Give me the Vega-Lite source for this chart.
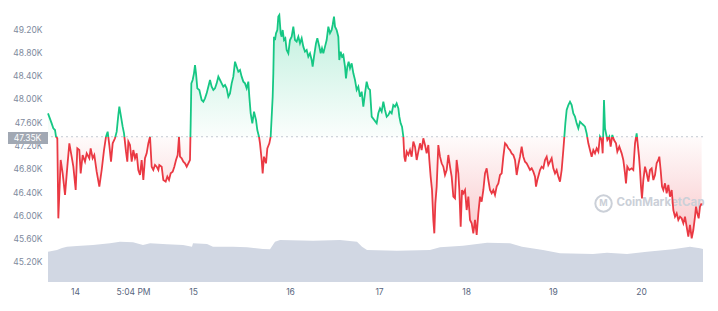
{
  "$schema": "https://vega.github.io/schema/vega-lite/v6.json",
  "autosize": {"type": "none"},
  "width": 655,
  "height": 282,
  "padding": {"left": 48, "top": 0, "right": 15, "bottom": 29},
  "background": "white",
  "config": {"view": {"stroke": null}, "font": "Inter", "axis": {"labelOverlap": false}},
  "datasets": {
    "volume": [
      {"h":0,"v":21.5},{"h":2.45,"v":22.7},{"h":3.82,"v":24.1},{"h":5.18,"v":25.0},{"h":7.91,"v":25.5},{"h":12.27,"v":26.2},{"h":16.91,"v":27.4},{"h":19.63,"v":28.6},{"h":23.18,"v":28.2},{"h":25.91,"v":26.2},{"h":27.82,"v":27.4},{"h":32.45,"v":26.7},{"h":36.82,"v":26.2},{"h":39.27,"v":25.0},{"h":39.54,"v":27.4},{"h":43.36,"v":27.0},{"h":45.0,"v":25.0},{"h":50.45,"v":25.0},{"h":54.27,"v":24.6},{"h":58.63,"v":23.4},{"h":60.54,"v":23.2},{"h":61.9,"v":28.6},{"h":63.27,"v":29.8},{"h":72.27,"v":29.3},{"h":79.63,"v":29.8},{"h":84.27,"v":28.6},{"h":85.63,"v":25.0},{"h":87.0,"v":22.7},{"h":95.17,"v":22.2},{"h":104.17,"v":22.7},{"h":106.9,"v":24.6},{"h":113.17,"v":25.7},{"h":119.72,"v":27.9},{"h":125.99,"v":27.4},{"h":129.26,"v":25.0},{"h":134.99,"v":22.7},{"h":139.62,"v":20.4},{"h":148.62,"v":19.9},{"h":152.44,"v":20.8},{"h":157.9,"v":19.9},{"h":163.35,"v":21.5},{"h":170.44,"v":23.2},{"h":175.07,"v":25.0},{"h":177.8,"v":23.9},{"h":178.62,"v":23.4}
    ],
    "price": [
      {"h":0,"p":47752},{"h":1.0,"p":47580},{"h":1.45,"p":47495},{"h":1.91,"p":47466},{"h":2.18,"p":47351},{"h":2.54,"p":47323},{"h":2.82,"p":45949},{"h":3.46,"p":46951},{"h":4.0,"p":46722},{"h":4.64,"p":46350},{"h":5.27,"p":46836},{"h":5.82,"p":47237},{"h":6.45,"p":47008},{"h":6.91,"p":46836},{"h":7.55,"p":46436},{"h":8.0,"p":47151},{"h":8.54,"p":47122},{"h":8.91,"p":46722},{"h":9.45,"p":47037},{"h":10.09,"p":46922},{"h":10.55,"p":47065},{"h":11.27,"p":46980},{"h":11.64,"p":47151},{"h":12.17,"p":46980},{"h":12.63,"p":47037},{"h":13.27,"p":46750},{"h":14.0,"p":46493},{"h":14.64,"p":46779},{"h":15.27,"p":47122},{"h":15.82,"p":47351},{"h":16.27,"p":47437},{"h":16.72,"p":47208},{"h":17.18,"p":46922},{"h":17.64,"p":47237},{"h":18.27,"p":47323},{"h":18.73,"p":47437},{"h":19.18,"p":47723},{"h":19.45,"p":47866},{"h":19.91,"p":47695},{"h":20.36,"p":47523},{"h":20.73,"p":47409},{"h":21.27,"p":47094},{"h":21.63,"p":46922},{"h":21.91,"p":47266},{"h":22.36,"p":47208},{"h":22.82,"p":46922},{"h":23.27,"p":47122},{"h":23.73,"p":46980},{"h":24.18,"p":47065},{"h":24.63,"p":46779},{"h":25.09,"p":46693},{"h":25.54,"p":46951},{"h":26.0,"p":46607},{"h":26.45,"p":46980},{"h":26.91,"p":47065},{"h":27.36,"p":47237},{"h":27.82,"p":47351},{"h":28.27,"p":46836},{"h":28.72,"p":46779},{"h":29.18,"p":46865},{"h":29.63,"p":46836},{"h":30.09,"p":46779},
      {"h":30.36,"p":46865},{"h":31.0,"p":46836},{"h":31.45,"p":46607},{"h":32.09,"p":46579},{"h":32.54,"p":46665},{"h":33.0,"p":46607},{"h":33.45,"p":46722},{"h":34.0,"p":46750},{"h":34.45,"p":46836},{"h":34.91,"p":46951},{"h":35.36,"p":47037},{"h":35.72,"p":47351},{"h":36.0,"p":47008},{"h":36.45,"p":46980},{"h":36.91,"p":46922},{"h":37.36,"p":46894},{"h":37.82,"p":46836},{"h":38.27,"p":46894},{"h":38.72,"p":46951},{"h":38.91,"p":47580},{"h":39.09,"p":48267},{"h":39.45,"p":48324},{"h":39.81,"p":48439},{"h":40.09,"p":48582},{"h":40.36,"p":48439},{"h":40.72,"p":48181},{"h":41.27,"p":48153},{"h":41.9,"p":47981},{"h":42.36,"p":47952},{"h":42.81,"p":48010},{"h":43.27,"p":48095},{"h":43.72,"p":48210},{"h":44.18,"p":48324},{"h":44.63,"p":48210},{"h":45.09,"p":48153},{"h":45.54,"p":48181},{"h":46.0,"p":48267},{"h":46.45,"p":48382},{"h":46.91,"p":48324},{"h":47.36,"p":48267},{"h":47.81,"p":48210},{"h":48.27,"p":48239},{"h":48.72,"p":48181},{"h":49.18,"p":48038},{"h":49.63,"p":48095},{"h":50.09,"p":48267},{"h":50.54,"p":48382},{"h":51.0,"p":48639},{"h":51.45,"p":48553},{"h":51.9,"p":48467},{"h":52.36,"p":48496},{"h":52.81,"p":48382},{"h":53.27,"p":48296},{"h":53.72,"p":48267},{"h":54.18,"p":48181},{"h":54.63,"p":48296},{"h":54.9,"p":48038},{"h":55.27,"p":47752},{"h":55.72,"p":47580},{"h":56.18,"p":47781},{"h":56.72,"p":47638},{"h":57.08,"p":47466},{"h":57.54,"p":47351},
      {"h":57.81,"p":47237},{"h":58.27,"p":46951},{"h":58.54,"p":46722},{"h":58.9,"p":47008},{"h":59.45,"p":46894},{"h":59.81,"p":47151},{"h":60.36,"p":47237},{"h":60.72,"p":47351},{"h":61.09,"p":47809},{"h":61.27,"p":48038},{"h":61.45,"p":48439},{"h":61.63,"p":49068},{"h":61.9,"p":49011},{"h":62.18,"p":49126},{"h":62.54,"p":49183},{"h":62.81,"p":49412},{"h":63.08,"p":49440},{"h":63.45,"p":49126},{"h":63.72,"p":49068},{"h":64.0,"p":49183},{"h":64.36,"p":49011},{"h":64.72,"p":49040},{"h":65.08,"p":48840},{"h":65.54,"p":48782},{"h":65.99,"p":49011},{"h":66.45,"p":49068},{"h":66.9,"p":49240},{"h":67.36,"p":49011},{"h":67.81,"p":48983},{"h":68.27,"p":49068},{"h":68.72,"p":48954},{"h":69.18,"p":49040},{"h":69.63,"p":48897},{"h":70.08,"p":48811},{"h":70.54,"p":48840},{"h":70.99,"p":48725},{"h":71.45,"p":48782},{"h":71.9,"p":48668},{"h":72.17,"p":48553},{"h":72.54,"p":48725},{"h":73.08,"p":48954},{"h":73.45,"p":49040},{"h":73.99,"p":48897},{"h":74.36,"p":48782},{"h":74.72,"p":48868},{"h":75.08,"p":48782},{"h":75.54,"p":48897},{"h":75.99,"p":49011},{"h":76.45,"p":49240},{"h":76.9,"p":49126},{"h":77.36,"p":49183},{"h":77.62,"p":49269},{"h":77.99,"p":49412},{"h":78.27,"p":49240},{"h":78.72,"p":49183},{"h":79.17,"p":49068},{"h":79.44,"p":48668},{"h":79.81,"p":48811},{"h":80.17,"p":48725},{"h":80.54,"p":48754},{"h":80.99,"p":48553},{"h":81.26,"p":48353},{"h":81.63,"p":48553},{"h":81.99,"p":48639},{"h":82.36,"p":48525},{"h":82.81,"p":48611},{"h":83.27,"p":48439},{"h":83.72,"p":48324},{"h":84.18,"p":48153},{"h":84.63,"p":48210},{"h":85.08,"p":48038},{"h":85.54,"p":48124},{"h":85.99,"p":47866},{"h":86.45,"p":48095},{"h":86.9,"p":48296},{"h":87.36,"p":48181},{"h":87.81,"p":48153},
      {"h":88.27,"p":47695},{"h":89.63,"p":47580},{"h":90.08,"p":47752},{"h":90.54,"p":47838},{"h":90.99,"p":47781},{"h":91.45,"p":47952},{"h":91.9,"p":47809},{"h":92.36,"p":47695},{"h":92.81,"p":47723},{"h":93.26,"p":47781},{"h":93.72,"p":47752},{"h":94.17,"p":47895},{"h":94.63,"p":47866},{"h":95.08,"p":47924},{"h":95.54,"p":47838},{"h":95.81,"p":47695},{"h":96.17,"p":47580},{"h":96.54,"p":47523},{"h":96.9,"p":47351},{"h":97.17,"p":47008},{"h":97.44,"p":46922},{"h":97.81,"p":47094},{"h":98.26,"p":47037},{"h":98.72,"p":47122},{"h":99.17,"p":47008},{"h":99.63,"p":47266},{"h":100.08,"p":47180},{"h":100.54,"p":46951},{"h":100.99,"p":47094},{"h":101.45,"p":47237},{"h":101.9,"p":47122},{"h":102.35,"p":47323},{"h":102.81,"p":47208},{"h":103.26,"p":47065},{"h":103.72,"p":47208},{"h":103.99,"p":46951},{"h":104.35,"p":46665},{"h":104.72,"p":46436},{"h":105.08,"p":45921},{"h":105.35,"p":45692},{"h":105.63,"p":46207},{"h":105.99,"p":46493},{"h":106.44,"p":47208},{"h":106.9,"p":47008},{"h":107.35,"p":46894},{"h":107.81,"p":46836},{"h":108.26,"p":46693},{"h":108.72,"p":46779},{"h":109.17,"p":47037},{"h":109.63,"p":46836},{"h":110.08,"p":46665},{"h":110.54,"p":46321},{"h":110.99,"p":46293},{"h":111.44,"p":46951},{"h":111.9,"p":46722},{"h":112.17,"p":46436},{"h":112.54,"p":45806},{"h":112.9,"p":46436},{"h":113.26,"p":46379},{"h":113.72,"p":46436},{"h":114.17,"p":46092},{"h":114.63,"p":46321},{"h":115.08,"p":45921},{"h":115.54,"p":45863},{"h":115.99,"p":45692},{"h":116.44,"p":45921},{"h":116.9,"p":45663},{"h":117.35,"p":46035},{"h":117.81,"p":46321},
      {"h":118.26,"p":46235},{"h":118.72,"p":46436},{"h":119.17,"p":46722},{"h":119.63,"p":46808},{"h":120.08,"p":46607},{"h":120.53,"p":46436},{"h":120.99,"p":46379},{"h":121.44,"p":46436},{"h":121.9,"p":46350},{"h":122.35,"p":46493},{"h":122.81,"p":46550},{"h":123.26,"p":46693},{"h":123.72,"p":46722},{"h":124.17,"p":47008},{"h":124.63,"p":47237},{"h":125.08,"p":47208},{"h":125.53,"p":47151},{"h":125.99,"p":47122},{"h":126.44,"p":47065},{"h":126.9,"p":47037},{"h":127.35,"p":46951},{"h":127.81,"p":46693},{"h":128.26,"p":46865},{"h":128.72,"p":47008},{"h":129.17,"p":47180},{"h":129.62,"p":47008},{"h":130.08,"p":46922},{"h":130.53,"p":46894},{"h":130.99,"p":46836},{"h":131.44,"p":46779},{"h":131.9,"p":46808},{"h":132.35,"p":46750},{"h":132.81,"p":46665},{"h":133.08,"p":46493},{"h":133.44,"p":46607},{"h":133.81,"p":46693},{"h":134.17,"p":46779},{"h":134.62,"p":46836},{"h":135.08,"p":46808},{"h":135.53,"p":46951},{"h":135.99,"p":47008},{"h":136.44,"p":46865},{"h":136.9,"p":46922},{"h":137.35,"p":46980},{"h":137.8,"p":46808},{"h":138.26,"p":46722},{"h":138.71,"p":46779},{"h":139.17,"p":46665},{"h":139.62,"p":46579},{"h":140.08,"p":46779},{"h":140.53,"p":47122},{"h":140.81,"p":47351},{"h":141.08,"p":47580},{"h":141.44,"p":47809},{"h":141.9,"p":47895},{"h":142.35,"p":47952},{"h":142.81,"p":47895},{"h":143.26,"p":47752},{"h":143.71,"p":47695},{"h":144.17,"p":47580},{"h":144.62,"p":47495},{"h":145.08,"p":47609},{"h":145.53,"p":47580},{"h":145.99,"p":47552},{"h":146.44,"p":47523},{"h":146.89,"p":47409},{"h":147.35,"p":47237},{"h":147.8,"p":47122},{"h":148.26,"p":47008},{"h":148.71,"p":47122},{"h":149.17,"p":47065},{"h":149.62,"p":47151},{"h":150.08,"p":47094},
      {"h":150.53,"p":47351},{"h":150.99,"p":47294},{"h":151.26,"p":47065},{"h":151.44,"p":47466},{"h":151.62,"p":47981},{"h":151.9,"p":47495},{"h":152.17,"p":47409},{"h":152.53,"p":47294},{"h":153.07,"p":47351},{"h":153.44,"p":47180},{"h":153.89,"p":47380},{"h":154.35,"p":47294},{"h":154.89,"p":47237},{"h":155.26,"p":47094},{"h":155.8,"p":47180},{"h":156.44,"p":47065},{"h":156.89,"p":46951},{"h":157.35,"p":46722},{"h":157.62,"p":46550},{"h":157.98,"p":46836},{"h":158.53,"p":46779},{"h":159.17,"p":46808},{"h":159.62,"p":46779},{"h":160.08,"p":47237},{"h":160.53,"p":47409},{"h":160.8,"p":47237},{"h":161.17,"p":47008},{"h":161.44,"p":46779},{"h":161.71,"p":46493},{"h":161.98,"p":46293},{"h":162.35,"p":46607},{"h":162.8,"p":46836},{"h":163.26,"p":46722},{"h":163.71,"p":46579},{"h":164.17,"p":46779},{"h":164.62,"p":46808},{"h":165.08,"p":46607},{"h":165.53,"p":46693},{"h":165.98,"p":46894},{"h":166.44,"p":46951},{"h":166.71,"p":47008},{"h":167.07,"p":46779},{"h":167.44,"p":46493},{"h":167.8,"p":46436},{"h":168.26,"p":46550},{"h":168.71,"p":46379},{"h":169.17,"p":46522},{"h":169.62,"p":46321},{"h":170.08,"p":46436},{"h":170.53,"p":46092},{"h":170.98,"p":45978},{"h":171.44,"p":46035},{"h":171.89,"p":45921},{"h":172.35,"p":45978},{"h":172.8,"p":45949},{"h":173.26,"p":45863},{"h":173.71,"p":45978},{"h":174.16,"p":45806},{"h":174.62,"p":45634},{"h":175.07,"p":45835},{"h":175.53,"p":45606},{"h":175.98,"p":45749},{"h":176.44,"p":45978},{"h":176.71,"p":46150},{"h":177.07,"p":46035},{"h":177.44,"p":45949},{"h":177.8,"p":46150},{"h":178.25,"p":46207}
    ],
    "base": [{"label": "47.35K", "p": 47350, "h0": -10.91, "h1": 0, "top": 47432, "bottom": 47226, "hm": -5.6, "pm": 47329}],
    "mark": [{"name": "CoinMarketCap", "h": 151.5, "ht": 155.0, "p": 46204}]
  },
  "layer": [
    {
      "data": {"name": "volume"},
      "mark": {"type": "area", "color": "#d1d7e3", "opacity": 1},
      "encoding": {
        "x": {
          "field": "h", "type": "quantitative",
          "scale": {"domain": [0, 178.62], "nice": false, "zero": false},
          "axis": {
            "title": null, "grid": false, "domain": false, "ticks": false, "tickCount": 20,
            "values": [7.36, 23.18, 39.54, 66.0, 90.27, 114.0, 137.71, 161.71],
            "labelExpr": "datum.value < 15 ? '14' : datum.value < 30 ? '5:04 PM' : datum.value < 50 ? '15' : datum.value < 78 ? '16' : datum.value < 100 ? '17' : datum.value < 125 ? '18' : datum.value < 150 ? '19' : '20'",
            "labelFontSize": 8.5, "labelColor": "#58667e", "labelPadding": 5, "labelFlush": false, "labelOverlap": false
          }
        },
        "y": {"field": "v", "type": "quantitative", "scale": {"domain": [0, 200]}, "axis": null}
      }
    },
    {
      "layer": [
        {
          "data": {"name": "price"},
          "mark": {
            "type": "area",
            "fill": {"gradient": "linear", "x1": 0, "y1": 0, "x2": 0, "y2": 1,
              "stops": [
                {"offset": 0, "color": "rgba(22,199,132,0.28)"},
                {"offset": 0.5451, "color": "rgba(22,199,132,0.02)"},
                {"offset": 0.5451, "color": "rgba(234,57,67,0.02)"},
                {"offset": 1, "color": "rgba(234,57,67,0.28)"}
              ]}
          },
          "encoding": {
            "x": {"field": "h", "type": "quantitative"},
            "y": {
              "field": "p", "type": "quantitative",
              "scale": {"domain": [44856, 49698], "nice": false, "zero": false},
              "axis": {
                "title": null, "domain": false, "ticks": false, "tickCount": 20,
                "values": [45200, 45600, 46000, 46400, 46800, 47200, 47600, 48000, 48400, 48800, 49200],
                "labelExpr": "format(datum.value / 1000, '.2f') + 'K'",
                "labelFontSize": 8.5, "labelColor": "#808a9d", "labelPadding": 6, "labelOverlap": false,
                "gridColor": "#eff2f5", "gridWidth": 1
              }
            },
            "y2": {"datum": 47350}
          }
        },
        {
          "data": {"name": "base"},
          "mark": {"type": "rule", "color": "#c3c9d2", "strokeDash": [2, 3], "strokeWidth": 1},
          "encoding": {"y": {"field": "p", "type": "quantitative"}}
        },
        {
          "data": {"name": "mark"},
          "mark": {"type": "point", "shape": "circle", "filled": false, "stroke": "#cbd0d8", "strokeWidth": 2, "size": 270, "opacity": 1},
          "encoding": {"x": {"field": "h", "type": "quantitative"}, "y": {"field": "p", "type": "quantitative"}}
        },
        {
          "data": {"name": "mark"},
          "mark": {"type": "text", "text": "M", "fontSize": 9, "fontWeight": "bold", "color": "#cbd0d8"},
          "encoding": {"x": {"field": "h", "type": "quantitative"}, "y": {"field": "p", "type": "quantitative"}}
        },
        {
          "data": {"name": "mark"},
          "mark": {"type": "text", "align": "left", "baseline": "middle", "fontSize": 11.5, "fontWeight": "bold", "color": "#cbd0d8"},
          "encoding": {"x": {"field": "ht", "type": "quantitative"}, "y": {"field": "p", "type": "quantitative"}, "text": {"field": "name"}}
        },
        {
          "data": {"name": "price"},
          "mark": {
            "type": "line", "strokeWidth": 1.8,
            "stroke": {"gradient": "linear", "x1": 0, "y1": 0, "x2": 0, "y2": 1,
              "stops": [
                {"offset": 0, "color": "#16c784"},
                {"offset": 0.5451, "color": "#16c784"},
                {"offset": 0.5451, "color": "#ea3943"},
                {"offset": 1, "color": "#ea3943"}
              ]}
          },
          "encoding": {"x": {"field": "h", "type": "quantitative"}, "y": {"field": "p", "type": "quantitative"}}
        },
        {
          "data": {"name": "base"},
          "mark": {"type": "rect", "color": "#a1a8b3"},
          "encoding": {
            "x": {"field": "h0", "type": "quantitative"}, "x2": {"field": "h1"},
            "y": {"field": "top", "type": "quantitative"}, "y2": {"field": "bottom"}
          }
        },
        {
          "data": {"name": "base"},
          "mark": {"type": "text", "color": "white", "fontSize": 8.5, "align": "center", "baseline": "middle"},
          "encoding": {
            "x": {"field": "hm", "type": "quantitative"},
            "y": {"field": "pm", "type": "quantitative"},
            "text": {"field": "label"}
          }
        }
      ]
    }
  ],
  "resolve": {"scale": {"y": "independent"}}
}
